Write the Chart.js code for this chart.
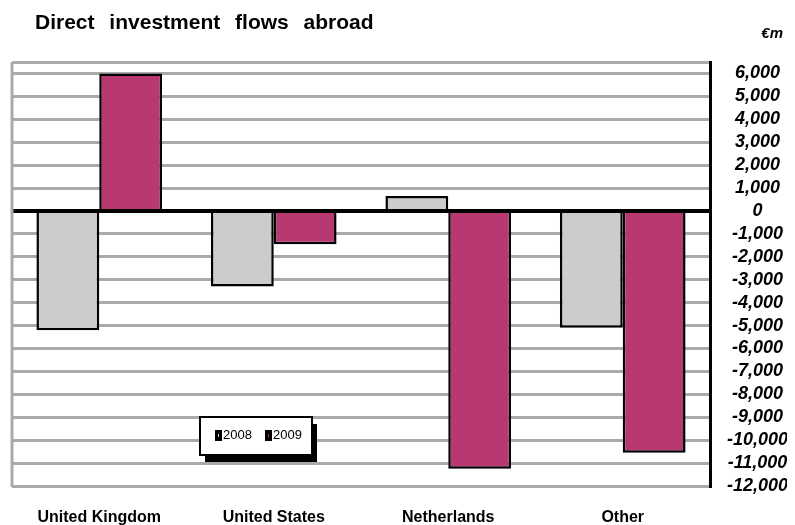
<!DOCTYPE html>
<html>
<head>
<meta charset="utf-8">
<script src="https://cdn.jsdelivr.net/npm/chart.js@4"></script>
<style>
  html, body { margin: 0; padding: 0; background: #fff; }
  #wrap { width: 795px; height: 525px; }
</style>
</head>
<body>
<div id="wrap"><canvas id="chart-flows" width="795" height="525"></canvas></div>
<script>
// Data
var categories = ['United Kingdom', 'United States', 'Netherlands', 'Other'];
var flows2008 = [-5200, -3300, 650, -5100];
var flows2009 = [6000, -1450, -11250, -10550];
var yTickValues = [6000, 5000, 4000, 3000, 2000, 1000, 0, -1000, -2000, -3000, -4000, -5000,
                   -6000, -7000, -8000, -9000, -10000, -11000, -12000];

var FONT = '"Liberation Sans", Arial, Helvetica, sans-serif';

// draw words with some extra spacing, like the original heading
function spacedText(ctx, text, x, y, extra) {
  text.split(' ').forEach(function(word) {
    ctx.fillText(word, x, y);
    x += ctx.measureText(word + ' ').width + extra;
  });
}

// Title, unit, left frame line and the boxed legend with its shadow
var decorations = {
  id: 'decorations',
  beforeDatasetsDraw: function(chart) {
    var ctx = chart.ctx, a = chart.chartArea;
    ctx.save();
    ctx.strokeStyle = '#aaaaaa';
    ctx.lineWidth = 3;
    ctx.beginPath();
    ctx.moveTo(a.left, a.top);
    ctx.lineTo(a.left, a.bottom + 1);
    ctx.stroke();
    ctx.restore();
  },
  afterDraw: function(chart) {
    var ctx = chart.ctx;
    ctx.save();
    ctx.fillStyle = '#000';
    ctx.textBaseline = 'middle';
    ctx.font = 'bold 21px ' + FONT;
    ctx.textAlign = 'left';
    spacedText(ctx, 'Direct investment flows abroad', 35, 23, 9);
    ctx.font = 'italic bold 15px ' + FONT;
    ctx.textAlign = 'right';
    ctx.fillText('€m', 783, 34);

    // legend
    var x = 200, y = 417, w = 112, h = 38;
    ctx.fillStyle = '#000';
    ctx.fillRect(x + 5, y + 7, w, h);
    ctx.fillStyle = '#fff';
    ctx.fillRect(x, y, w, h);
    ctx.strokeStyle = '#000';
    ctx.lineWidth = 2;
    ctx.strokeRect(x, y, w, h);

    ctx.font = '13px ' + FONT;
    ctx.textAlign = 'left';
    var offsets = [15, 65];
    chart.data.datasets.forEach(function(ds, i) {
      var mx = x + offsets[i];
      ctx.fillStyle = '#000';
      ctx.fillRect(mx, y + 13, 7, 11);
      ctx.fillStyle = ds.backgroundColor;
      ctx.fillRect(mx + 3, y + 17, 1, 3);
      ctx.fillStyle = '#000';
      ctx.fillText(ds.label, mx + 8, y + 18);
    });
    ctx.restore();
  }
};

var flowsChart = new Chart(document.getElementById('chart-flows').getContext('2d'), {
  type: 'bar',
  data: {
    labels: categories,
    datasets: [{
      label: '2008',
      data: flows2008,
      backgroundColor: '#cccccc',
      borderColor: '#000000',
      borderWidth: 2.5,
      categoryPercentage: 0.72,
      barPercentage: 1
    }, {
      label: '2009',
      data: flows2009,
      backgroundColor: '#b83871',
      borderColor: '#000000',
      borderWidth: 2.5,
      categoryPercentage: 0.72,
      barPercentage: 1
    }]
  },
  options: {
    responsive: false,
    animation: false,
    layout: { padding: { top: 62, left: 12, right: 8, bottom: 0 } },
    plugins: {
      legend: { display: false },
      title: { display: false },
      tooltip: { enabled: false }
    },
    scales: {
      x: {
        grid: { display: false, drawTicks: false },
        border: { display: false },
        afterFit: function(axis) { axis.height = 39; },
        ticks: {
          color: '#000',
          padding: 22,
          font: { family: FONT, size: 16, weight: 'bold' },
          maxRotation: 0,
          autoSkip: false
        }
      },
      y: {
        position: 'right',
        min: -12000,
        max: 6500,
        afterBuildTicks: function(axis) {
          axis.ticks = [{ value: 6500 }].concat(yTickValues.map(function(v) { return { value: v }; }));
        },
        afterFit: function(axis) { axis.width = 77; },
        grid: {
          drawTicks: false,
          color: function(c) { return c.tick && c.tick.value === 0 ? '#000000' : '#aaaaaa'; },
          lineWidth: function(c) { return c.tick && c.tick.value === 0 ? 4 : 3; }
        },
        border: { display: true, color: '#000', width: 3 },
        ticks: {
          color: '#000',
          padding: 17,
          crossAlign: 'center',
          autoSkip: false,
          font: { family: FONT, size: 18, weight: 'bold', style: 'italic' },
          callback: function(v) { return v === 6500 ? '' : v.toLocaleString('en-US'); }
        }
      }
    }
  },
  plugins: [decorations]
});
</script>
</body>
</html>
